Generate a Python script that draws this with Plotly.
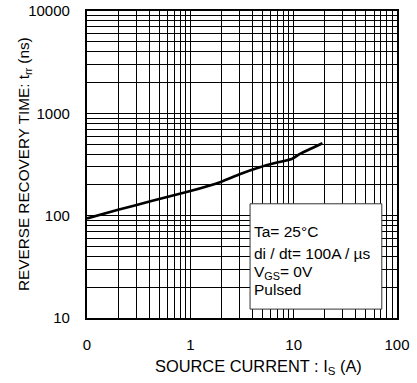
import plotly.graph_objects as go

# data
source_current = [0.1, 0.2, 0.42, 0.96, 2.0, 3.0, 4.7, 6.9, 9.6, 11.5, 15, 19]
recovery_time = [94, 114, 139, 172, 215, 254, 297, 330, 358, 401, 456, 510]

x_tickvals = [0.1, 1, 10, 100]
x_ticktext = ["0", "1", "10", "100"]
y_tickvals = [10, 100, 1000, 10000]
y_ticktext = ["10", "100", "1000", "10000"]

x_minor = [m * d for d in [0.1, 1, 10] for m in range(2, 10)]
y_minor = [m * d for d in [10, 100, 1000] for m in range(2, 10)]

cond_lines = ["Ta= 25°C", "di / dt= 100A / µs", "V<sub>GS</sub>= 0V", "Pulsed"]

FONT = "Liberation Sans, Arial, sans-serif"

fig = go.Figure()
fig.add_trace(go.Scatter(
    x=source_current, y=recovery_time, mode="lines",
    line=dict(color="black", width=2.6, shape="spline", smoothing=0.3),
    showlegend=False, hoverinfo="skip"))

axis_common = dict(
    type="log", showgrid=True, gridcolor="black", gridwidth=1,
    showline=True, linecolor="black", linewidth=2.2, mirror=True,
    ticks="outside", ticklen=12, tickcolor="rgba(0,0,0,0)", zeroline=False,
    tickfont=dict(family=FONT, size=15, color="black"),
    automargin=False,
)

fig.update_xaxes(
    **axis_common,
    range=[-1, 2],
    tickvals=x_tickvals, ticktext=x_ticktext,
    minor=dict(tickvals=x_minor, showgrid=True, gridcolor="black", gridwidth=1, ticks=""),
)
fig.update_yaxes(
    **axis_common,
    range=[1, 4],
    tickvals=y_tickvals, ticktext=y_ticktext,
    minor=dict(tickvals=y_minor, showgrid=True, gridcolor="black", gridwidth=1, ticks=""),
)

# condition box
fig.add_shape(type="rect", xref="paper", yref="paper",
              x0=0.526, x1=0.951, y0=0.029, y1=0.372,
              fillcolor="white", line=dict(color="#333333", width=1), layer="above")

cond_y = [231, 253, 272, 289]
for txt, py in zip(cond_lines, cond_y):
    fig.add_annotation(xref="paper", yref="paper",
                       x=(252 - 87) / 310, y=(318 - py) / 307,
                       xanchor="left", yanchor="middle", showarrow=False,
                       text=txt, font=dict(family=FONT, size=15.5, color="black"))

# axis titles
fig.add_annotation(xref="paper", yref="paper",
                   x=(258 - 87) / 310, y=(318 - 367) / 307,
                   xanchor="center", yanchor="middle", showarrow=False,
                   text="SOURCE CURRENT : I<sub>S</sub> (A)",
                   font=dict(family=FONT, size=16.4, color="black"))
fig.add_annotation(xref="paper", yref="paper",
                   x=(24 - 87) / 310, y=(318 - 164) / 307,
                   xanchor="center", yanchor="middle", showarrow=False, textangle=-90,
                   text="REVERSE RECOVERY TIME: t<sub>rr</sub> (ns)",
                   font=dict(family=FONT, size=15.3, color="black"))

fig.update_layout(
    width=417, height=383,
    margin=dict(l=87, r=20, t=11, b=65, autoexpand=False),
    paper_bgcolor="white", plot_bgcolor="white",
    showlegend=False,
)

fig.write_html("out.html")
